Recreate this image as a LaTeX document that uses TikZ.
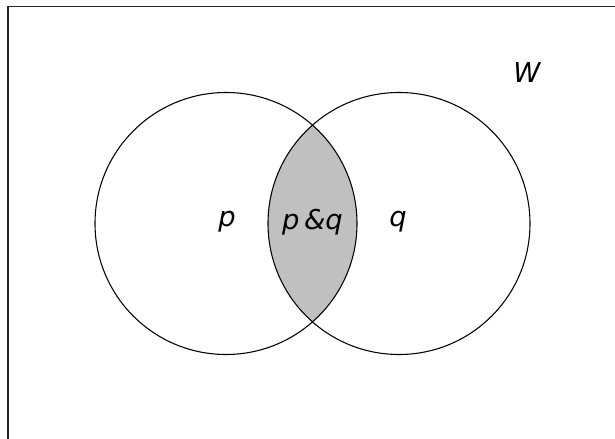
\documentclass[tikz,border=0pt]{standalone}
\usepackage{fontspec}
\setsansfont{DejaVu Sans}
\usepackage{xcolor}
\usepackage{tikz}
\definecolor{lensgray}{RGB}{192,192,192}

\begin{document}
\begin{tikzpicture}[
  x=0.75pt,y=-0.75pt,
  set/.style={circle,draw=black,line width=0.8pt,minimum size=196.5pt,inner sep=0pt},
  lbl/.style={font=\sffamily\itshape\fontsize{20.5}{24}\selectfont,text=black,inner sep=0pt}
]
  \clip (0,0) rectangle (615,439);
  \fill[white] (0,0) rectangle (615,439);
  % world frame (runs off the page)
  \draw[line width=1pt,black!85] (8,6.5) rectangle (700,520);

  \coordinate (cp) at (226,223.5);
  \coordinate (cq) at (399,223.5);
  % shaded overlap
  \begin{scope}
    \clip (cp) circle[radius=98.25pt];
    \fill[lensgray] (cq) circle[radius=98.25pt];
  \end{scope}
  \node[set] (setp) at (cp) {};
  \node[set] (setq) at (cq) {};

  \node[lbl] (lp) at (227,222) {p};
  \node[lbl] (lpq) at (312.5,222) {p\,\&q};
  \node[lbl] (lq) at (398,222) {q};
  \node[lbl] (lw) at (527,73) {W};
\end{tikzpicture}
\end{document}
